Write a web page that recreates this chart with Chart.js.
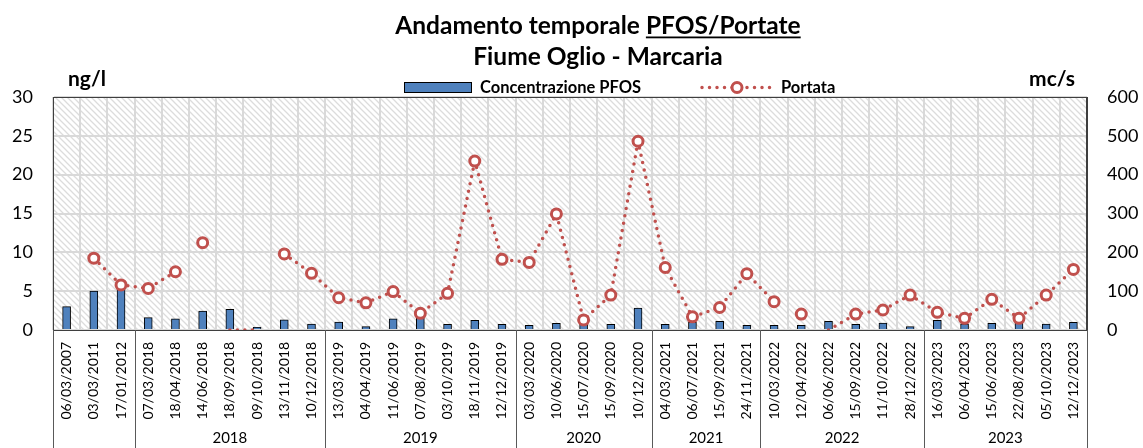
<!DOCTYPE html>
<html>
<head>
<meta charset="utf-8">
<script src="https://cdn.jsdelivr.net/npm/chart.js@4/dist/chart.umd.min.js"></script>
<style>
  html, body { margin: 0; padding: 0; background: #fff; }
  #wrap { width: 1143px; height: 448px; position: relative; }
</style>
</head>
<body>
<div id="wrap"><canvas id="c"></canvas></div>
<script>
// ---- DATA ----
const categories = ['06/03/2007','03/03/2011','17/01/2012','07/03/2018','18/04/2018','14/06/2018','18/09/2018','09/10/2018','13/11/2018','10/12/2018',
  '13/03/2019','04/04/2019','11/06/2019','07/08/2019','03/10/2019','18/11/2019','12/12/2019',
  '03/03/2020','10/06/2020','15/07/2020','15/09/2020','10/12/2020',
  '04/03/2021','06/07/2021','15/09/2021','24/11/2021',
  '10/03/2022','12/04/2022','06/06/2022','15/09/2022','11/10/2022','28/12/2022',
  '16/03/2023','06/04/2023','15/06/2023','22/08/2023','05/10/2023','12/12/2023'];
const pfos = [3.0, 5.0, 5.3, 1.6, 1.45, 2.45, 2.65, 0.35, 1.3, 0.77,
  1.03, 0.43, 1.45, 1.5, 0.73, 1.25, 0.73,
  0.6, 0.86, 0.75, 0.73, 2.83,
  0.73, 1.0, 1.12, 0.6,
  0.6, 0.6, 1.12, 0.73, 0.9, 0.43,
  1.25, 0.8, 0.86, 0.85, 0.77, 0.99];
const portata = [null, 185, 116, 107, 150, 225, 0, 0, 196, 146,
  83, 70, 99, 43, 94.5, 435, 182,
  174, 299, 26, 90, 486,
  161, 34, 58, 145,
  73, 41, 0, 41, 51.5, 90,
  45.5, 30, 79, 30, 90, 156];
// segments of the Portata line that are not drawn (start index of segment)
const portataGaps = [4, 5, 7, 26, 27];
const groupLabels = ['', '2018', '2019', '2020', '2021', '2022', '2023'];
const groupSizes = [3, 7, 7, 5, 4, 6, 6];
const leftTicks = [0, 5, 10, 15, 20, 25, 30];
const rightTicks = [0, 100, 200, 300, 400, 500, 600];

const FONT = 'Lato, "Open Sans", sans-serif';
const BAR_BLUE = '#4f81bd';
const RED = '#c0504d';

function makeHatch() {
  const s = 6;
  const c = document.createElement('canvas');
  c.width = s; c.height = s;
  const g = c.getContext('2d');
  g.fillStyle = '#ffffff';
  g.fillRect(0, 0, s, s);
  g.strokeStyle = '#dcdcdc';
  g.lineWidth = 1.3;
  g.beginPath();
  g.moveTo(-1, -1); g.lineTo(s + 1, s + 1);
  g.moveTo(-1, s - 1); g.lineTo(1, s + 1);
  g.moveTo(s - 1, -1); g.lineTo(s + 1, 1);
  g.stroke();
  return g.createPattern(c, 'repeat');
}

const decor = {
  id: 'decor',
  beforeDraw(chart) {
    const { ctx, chartArea: a } = chart;
    ctx.save();
    ctx.fillStyle = makeHatch();
    ctx.fillRect(a.left, a.top, a.right - a.left, a.bottom - a.top);
    ctx.restore();
  },
  afterDatasetsDraw(chart) {
    const { ctx, chartArea: a } = chart;
    ctx.save();
    ctx.strokeStyle = '#3f3f3f';
    ctx.lineWidth = 1;
    ctx.strokeRect(Math.round(a.left) + 0.5, Math.round(a.top) + 0.5, Math.round(a.right - a.left) - 1, Math.round(a.bottom - a.top));
    ctx.restore();
  },
  afterDraw(chart) {
    const { ctx, chartArea: a, scales } = chart;
    const xs = scales.x;
    const n = categories.length;
    const w = (xs.right - xs.left) / n;
    ctx.save();
    ctx.strokeStyle = '#595959';
    ctx.lineWidth = 1;
    let start = 0;
    const H = chart.height;
    const drawV = (x) => {
      const xx = Math.round(x) + 0.5;
      ctx.beginPath(); ctx.moveTo(xx, a.bottom); ctx.lineTo(xx, H); ctx.stroke();
    };
    drawV(xs.left);
    ctx.fillStyle = '#000';
    ctx.font = '15px ' + FONT;
    ctx.textAlign = 'center';
    ctx.textBaseline = 'middle';
    groupSizes.forEach((sz, i) => {
      const x0 = xs.left + w * start;
      const x1 = xs.left + w * (start + sz);
      drawV(x1);
      if (groupLabels[i]) ctx.fillText(groupLabels[i], (x0 + x1) / 2, 438);
      start += sz;
    });

    // Title
    ctx.fillStyle = '#000';
    ctx.textBaseline = 'alphabetic';
    ctx.font = 'bold 24.5px ' + FONT;
    const t1a = 'Andamento temporale ';
    const t1b = 'PFOS/Portate';
    const wa = ctx.measureText(t1a).width;
    const wb = ctx.measureText(t1b).width;
    const cx = 598;
    let tx = cx - (wa + wb) / 2;
    ctx.textAlign = 'left';
    ctx.fillText(t1a, tx, 34);
    ctx.fillText(t1b, tx + wa, 34);
    ctx.fillRect(tx + wa, 36.5, wb, 1.8);
    ctx.textAlign = 'center';
    ctx.fillText('Fiume Oglio - Marcaria', cx, 65);

    // Axis unit titles
    ctx.font = 'bold 21px ' + FONT;
    ctx.textAlign = 'left';
    ctx.fillText('ng/l', 68, 86);
    ctx.textAlign = 'right';
    ctx.fillText('mc/s', 1075, 86);

    // Legend
    ctx.fillStyle = BAR_BLUE;
    ctx.fillRect(404.5, 82.5, 67, 10);
    ctx.strokeStyle = '#000';
    ctx.lineWidth = 1;
    ctx.strokeRect(404.5, 82.5, 67, 10);
    ctx.fillStyle = '#000';
    ctx.font = 'bold 16.5px ' + FONT;
    ctx.textAlign = 'left';
    ctx.fillText('Concentrazione PFOS', 480, 93);
    ctx.strokeStyle = RED;
    ctx.lineWidth = 3.5;
    ctx.lineCap = 'round';
    ctx.setLineDash([0, 7.5]);
    ctx.beginPath(); ctx.moveTo(702, 87.5); ctx.lineTo(772, 87.5); ctx.stroke();
    ctx.setLineDash([]);
    ctx.beginPath(); ctx.arc(737, 87.5, 5, 0, Math.PI * 2);
    ctx.fillStyle = '#fff'; ctx.fill();
    ctx.lineWidth = 3; ctx.strokeStyle = RED; ctx.stroke();
    ctx.fillStyle = '#000';
    ctx.fillText('Portata', 781, 93);
    ctx.restore();
  }
};

new Chart(document.getElementById('c'), {
  type: 'bar',
  data: {
    labels: categories,
    datasets: [
      {
        type: 'line',
        label: 'Portata',
        data: portata,
        yAxisID: 'y1',
        order: 0,
        borderColor: RED,
        borderWidth: 3.5,
        borderDash: [0, 7.5],
        borderCapStyle: 'round',
        pointStyle: 'circle',
        pointRadius: (c) => (c.raw === 0 || c.raw === null) ? 0 : 5,
        pointBorderWidth: 3,
        pointBackgroundColor: '#ffffff',
        pointBorderColor: RED,
        tension: 0,
        spanGaps: false,
        segment: {
          borderColor: (c) => portataGaps.includes(c.p0DataIndex) ? 'rgba(0,0,0,0)' : undefined
        }
      },
      {
        type: 'bar',
        label: 'Concentrazione PFOS',
        data: pfos,
        yAxisID: 'y',
        order: 1,
        backgroundColor: BAR_BLUE,
        borderColor: '#000',
        borderWidth: 1,
        barThickness: 8
      }
    ]
  },
  options: {
    responsive: true,
    maintainAspectRatio: false,
    animation: false,
    devicePixelRatio: 1,
    layout: { padding: { top: 97, left: 0, right: 0, bottom: 0 } },
    plugins: { legend: { display: false }, title: { display: false }, tooltip: { enabled: false } },
    scales: {
      x: {
        offset: true,
        afterFit: (s) => { s.height = 118; },
        grid: { display: true, offset: true, color: '#d9d9d9', lineWidth: 2, drawTicks: false },
        border: { display: true, color: '#000', width: 1 },
        ticks: { minRotation: 90, maxRotation: 90, autoSkip: false, padding: 12, color: '#000', font: { family: FONT, size: 14 } }
      },
      y: {
        position: 'left',
        min: 0, max: 30,
        afterFit: (s) => { s.width = 53; },
        afterBuildTicks: (s) => { s.ticks = leftTicks.map(v => ({ value: v })); },
        grid: { color: '#d9d9d9', lineWidth: 2, drawTicks: false },
        border: { display: true, color: '#3f3f3f', width: 1 },
        ticks: { padding: 20, color: '#000', font: { family: FONT, size: 18 } }
      },
      y1: {
        position: 'right',
        min: 0, max: 600,
        afterFit: (s) => { s.width = 56; },
        afterBuildTicks: (s) => { s.ticks = rightTicks.map(v => ({ value: v })); },
        grid: { display: false, drawTicks: false },
        border: { display: true, color: '#3f3f3f', width: 1 },
        ticks: { padding: 20, color: '#000', font: { family: FONT, size: 18 } }
      }
    }
  },
  plugins: [decor]
});
</script>
</body>
</html>
